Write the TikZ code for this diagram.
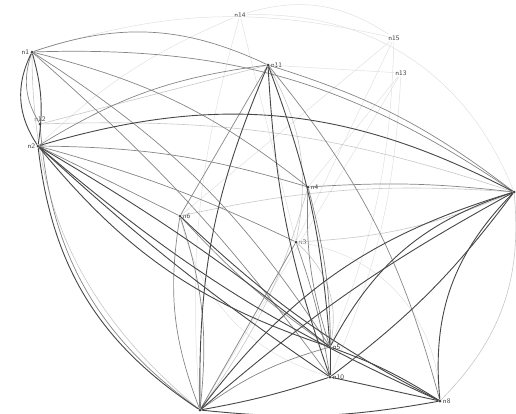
\documentclass[tikz,border=0pt]{standalone}
\begin{document}
\begin{tikzpicture}[x=1pt,y=-1pt,
  vtx/.style={circle,fill=black!75,inner sep=0pt,minimum size=3pt},
  lab/.style={font=\sffamily\fontsize{7}{7}\selectfont,text=black!75,inner sep=1pt},
  dk/.style={draw=black!72,line width=0.9pt},
  md/.style={draw=black!48,line width=0.7pt},
  lt/.style={draw=black!22,line width=0.6pt},
  ft/.style={draw=black!12,line width=0.5pt}]
\useasboundingbox (0,0) rectangle (516,413);
% vertices
\node[vtx,label={[lab]left:n1}] (n1) at (32,52) {};
\node[vtx,label={[lab]above:n12}] (n12) at (40,124) {};
\node[vtx,label={[lab]left:n2}] (n2) at (38,146) {};
\node[lab] (n14) at (240,15) {n14};
\node[lab] (n15) at (394,38) {n15};
\node[lab] (n13) at (401,73) {n13};
\node[vtx,label={[lab]right:n11}] (n11) at (268,65) {};
\node[vtx,label={[lab]right:n4}] (n4) at (308,187) {};
\node[vtx,label={[lab]right:n6}] (n6) at (180,216) {};
\node[vtx,label={[lab]right:n3}] (n3) at (296,242) {};
\node[vtx] (n7) at (514,192) {};
\node[vtx,label={[lab]right:n5}] (n5) at (330,347) {};
\node[vtx,label={[lab]right:n10}] (n10) at (330,377) {};
\node[vtx,label={[lab]right:n8}] (n8) at (440,401) {};
\node[vtx] (n9) at (200,410) {};
% faint edges
\draw[ft] (n14) to[bend left=25] (n15);
\draw[ft] (n14) to[bend left=35] (n7);
\draw[ft] (n14) to[bend right=10] (n9);
\draw[ft] (n14) to (n3);
\draw[ft] (n14) to[bend right=10] (n2);
\draw[ft] (n15) to (n6);
\draw[ft] (n15) to (n3);
\draw[ft] (n15) to[bend right=15] (n1);
\draw[ft] (n15) to[bend left=10] (n5);
\draw[ft] (n13) to (n9);
\draw[ft] (n13) to (n4);
\draw[ft] (n13) to (n11);
\draw[ft] (n13) to[bend left=10] (n10);
\draw[ft] (n3) to[bend left=40] (n8);
\draw[ft] (n6) to[bend right=30] (n10);
% light edges
\draw[lt] (n12) to[bend left=10] (n7);
\draw[lt] (n12) to (n11);
\draw[lt] (n1) to[bend right=25] (n9);
\draw[lt] (n8) to[bend right=25] (n7);
\draw[lt] (n4) to[bend left=10] (n9);
\draw[lt] (n3) to[bend right=10] (n7);
\draw[lt] (n6) to[bend left=8] (n7);
\draw[lt] (n3) to[bend left=30] (n5);
\draw[lt] (n11) to[bend left=20] (n3);
% medium edges
\draw[md] (n1) to[bend left=22] (n11);
\draw[md] (n1) to[bend left=18] (n7);
\draw[md] (n1) to[bend left=12] (n4);
\draw[md] (n1) to[bend left=6] (n10);
\draw[md] (n1) to[bend left=12] (n5);
\draw[md] (n12) to[bend left=25] (n1);
\draw[md] (n12) to[bend right=25] (n9);
\draw[md] (n11) to[bend left=10] (n7);
\draw[md] (n11) to[bend right=12] (n2);
\draw[md] (n11) to (n6);
\draw[md] (n11) to[bend left=12] (n8);
\draw[md] (n6) to[bend right=15] (n9);
\draw[md] (n6) to[bend left=12] (n9);
\draw[md] (n6) to[bend right=6] (n5);
\draw[md] (n4) to[bend left=8] (n10);
\draw[md] (n4) to[bend right=10] (n5);
\draw[md] (n4) to[bend left=5] (n7);
\draw[md] (n3) to (n9);
\draw[md] (n3) to[bend left=5] (n10);
\draw[md] (n9) to[bend left=10] (n5);
\draw[md] (n2) to[bend left=5] (n3);
\draw[md] (n2) to (n6);
\draw[md] (n2) to[bend left=8] (n4);
% dark edges
\draw[dk] (n1) to[bend right=30] (n2);
\draw[dk] (n1) to[bend left=12] (n2);
\draw[dk] (n2) to[bend right=25] (n9);
\draw[dk] (n2) to[bend left=22] (n7);
\draw[dk] (n2) to[bend left=4] (n5);
\draw[dk] (n2) to[bend right=4] (n10);
\draw[dk] (n2) to[bend right=8] (n8);
\draw[dk] (n2) to[bend right=16] (n5);
\draw[dk] (n9) to[bend left=18] (n7);
\draw[dk] (n9) to[bend left=6] (n7);
\draw[dk] (n5) to[bend left=22] (n7);
\draw[dk] (n10) to[bend right=8] (n7);
\draw[dk] (n8) to[bend left=25] (n7);
\draw[dk] (n11) to[bend right=12] (n9);
\draw[dk] (n11) to[bend left=8] (n5);
\draw[dk] (n11) to[bend right=8] (n10);
\draw[dk] (n6) to[bend right=8] (n8);
\draw[dk] (n9) to[bend right=8] (n8);
\draw[dk] (n5) to[bend left=6] (n8);
\draw[dk] (n10) to (n8);
\draw[dk] (n9) to[bend right=4] (n10);
\draw[dk] (n5) to (n10);
\end{tikzpicture}
\end{document}
